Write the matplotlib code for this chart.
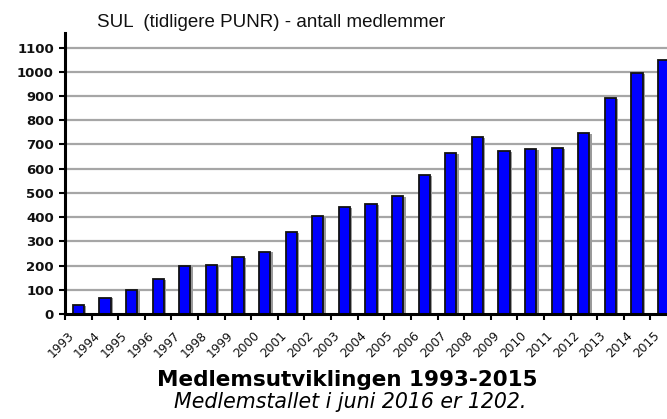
import matplotlib
matplotlib.use("Agg")
import matplotlib.pyplot as plt
import matplotlib.transforms as mtransforms
import numpy as np

plt.rcParams['font.family'] = ['DejaVu Sans']

years = ['1993', '1994', '1995', '1996', '1997', '1998', '1999', '2000', '2001', '2002',
         '2003', '2004', '2005', '2006', '2007', '2008', '2009', '2010', '2011', '2012',
         '2013', '2014', '2015']
members = [37, 68, 99, 144, 200, 204, 236, 258, 339, 406,
           442, 455, 489, 572, 663, 732, 673, 680, 685, 746,
           893, 994, 1050]
yticks = [0, 100, 200, 300, 400, 500, 600, 700, 800, 900, 1000, 1100]

title_top = "SUL  (tidligere PUNR) - antall medlemmer"
title_main = "Medlemsutviklingen 1993-2015"
subtitle = "Medlemstallet i juni 2016 er 1202."

fig = plt.figure(figsize=(6.67, 4.19), dpi=100)
ax = fig.add_axes([65/667, 105/419, 612/667, 281/419])

x = np.arange(len(years))
# shadow
ax.bar(x + 0.09, np.array(members) - 4, width=0.42, color='#9a9a9a', edgecolor='none', zorder=2)
ax.bar(x, members, width=0.42, color='#0000ff', edgecolor='#111111', linewidth=1.3, zorder=3)

ax.set_xlim(-0.5, len(years) - 0.5)
ax.set_ylim(0, 1160)

for v in yticks[1:]:
    ax.axhline(v, color='#a6a6a6', linewidth=1.6, zorder=1)

ax.set_yticks(yticks)
ax.set_yticklabels([str(v) for v in yticks], fontsize=9.5, fontweight='bold', color='#111111')
ax.tick_params(axis='y', direction='out', length=4, width=1.5, pad=4)

ax.set_xticks(np.arange(-0.5, len(years)), labels=[''] * (len(years) + 1))
ax.tick_params(axis='x', which='major', direction='out', length=4, width=1.5)
ax.set_xticks(x, minor=True)
ax.set_xticklabels(years, minor=True, rotation=45, ha='right', va='center',
                   rotation_mode='anchor', fontsize=8.8, color='#111111')
ax.tick_params(axis='x', which='minor', length=0, pad=14)
shift = mtransforms.ScaledTranslation(-6.5 / 100, 0, fig.dpi_scale_trans)
for lab in ax.get_xticklabels(minor=True):
    lab.set_transform(lab.get_transform() + shift)

for s in ['top', 'right']:
    ax.spines[s].set_visible(False)
for s in ['left', 'bottom']:
    ax.spines[s].set_linewidth(2.2)
    ax.spines[s].set_color('black')
ax.spines['left'].set_zorder(5)
ax.spines['bottom'].set_zorder(5)

fig.text(97/667, 1 - 27/419, title_top, fontsize=13.5, va='baseline', ha='left',
         color='#111111', family=['Liberation Sans', 'DejaVu Sans'])
fig.text(347/667, 1 - 385.5/419, title_main, fontsize=15.5, fontweight='bold',
         ha='center', va='baseline')
fig.text(350/667, 1 - 408/419, subtitle, fontsize=14.8, style='italic',
         ha='center', va='baseline')

fig.savefig('out.png', dpi=100)
